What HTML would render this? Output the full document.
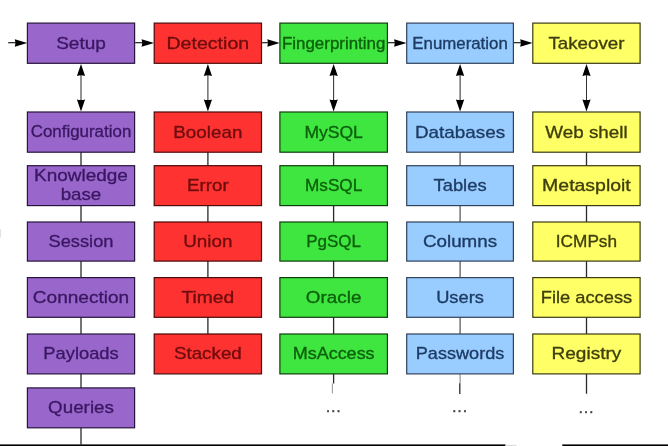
<!DOCTYPE html>
<html><head><meta charset="utf-8"><title>sqlmap architecture</title>
<style>
html,body{margin:0;padding:0;background:#fff;}
body{width:668px;height:446px;overflow:hidden;}
svg{display:block;}
svg text{font-family:"Liberation Sans",sans-serif;font-size:16.4px;stroke-width:0.32px;}
</style></head><body>
<svg width="668" height="446" viewBox="0 0 668 446">
<defs><filter id="soft" x="-6" y="-6" width="680" height="458" filterUnits="userSpaceOnUse"><feGaussianBlur stdDeviation="0.45"/></filter></defs>
<rect width="668" height="446" fill="#ffffff"/>
<g filter="url(#soft)">
<rect x="-6" y="-6" width="680" height="458" fill="#ffffff"/>
<line x1="81.0" y1="116.4" x2="81.0" y2="444.6" stroke="#2a2a2a" stroke-width="1.3"/>
<line x1="207.9" y1="116.4" x2="207.9" y2="338.4" stroke="#2a2a2a" stroke-width="1.3"/>
<line x1="333.6" y1="116.4" x2="333.6" y2="383.6" stroke="#2a2a2a" stroke-width="1.3"/>
<line x1="332.4" y1="383.6" x2="332.4" y2="393.6" stroke="#a8a8a8" stroke-width="1.2"/>
<line x1="460.1" y1="116.4" x2="460.1" y2="370" stroke="#5c5c5c" stroke-width="1.3"/>
<line x1="460.1" y1="374" x2="460.1" y2="383.2" stroke="#9a9a9a" stroke-width="1.3"/>
<line x1="459.8" y1="383.2" x2="459.8" y2="394" stroke="#2a2a2a" stroke-width="1.3"/>
<line x1="586.5" y1="116.4" x2="586.5" y2="393.7" stroke="#2a2a2a" stroke-width="1.3"/>
<line x1="81.0" y1="71.9" x2="81.0" y2="103.4" stroke="#333" stroke-width="1.05"/>
<path d="M81.0 63.9 L85.1 75.9 Q81.0 74.5 76.9 75.9 Z" fill="#000"/>
<path d="M81.0 111.4 L85.1 99.4 Q81.0 100.80000000000001 76.9 99.4 Z" fill="#000"/>
<line x1="207.9" y1="71.9" x2="207.9" y2="103.4" stroke="#333" stroke-width="1.05"/>
<path d="M207.9 63.9 L212.0 75.9 Q207.9 74.5 203.8 75.9 Z" fill="#000"/>
<path d="M207.9 111.4 L212.0 99.4 Q207.9 100.80000000000001 203.8 99.4 Z" fill="#000"/>
<line x1="333.6" y1="71.9" x2="333.6" y2="103.4" stroke="#333" stroke-width="1.05"/>
<path d="M333.6 63.9 L337.8 75.9 Q333.6 74.5 329.5 75.9 Z" fill="#000"/>
<path d="M333.6 111.4 L337.8 99.4 Q333.6 100.80000000000001 329.5 99.4 Z" fill="#000"/>
<line x1="460.1" y1="71.9" x2="460.1" y2="103.4" stroke="#333" stroke-width="1.05"/>
<path d="M460.1 63.9 L464.2 75.9 Q460.1 74.5 455.9 75.9 Z" fill="#000"/>
<path d="M460.1 111.4 L464.2 99.4 Q460.1 100.80000000000001 455.9 99.4 Z" fill="#000"/>
<line x1="586.5" y1="71.9" x2="586.5" y2="103.4" stroke="#333" stroke-width="1.05"/>
<path d="M586.5 63.9 L590.6 75.9 Q586.5 74.5 582.4 75.9 Z" fill="#000"/>
<path d="M586.5 111.4 L590.6 99.4 Q586.5 100.80000000000001 582.4 99.4 Z" fill="#000"/>
<line x1="8.2" y1="42.7" x2="19.2" y2="42.7" stroke="#151515" stroke-width="1.15"/>
<path d="M27.2 43.0 L14.8 39.25 Q16.2 43.0 14.8 46.75 Z" fill="#000"/>
<line x1="135.2" y1="42.7" x2="146.0" y2="42.7" stroke="#151515" stroke-width="1.15"/>
<path d="M154.0 43.0 L141.6 39.25 Q143.0 43.0 141.6 46.75 Z" fill="#000"/>
<line x1="262.1" y1="42.7" x2="271.7" y2="42.7" stroke="#151515" stroke-width="1.15"/>
<path d="M279.7 43.0 L267.3 39.25 Q268.7 43.0 267.3 46.75 Z" fill="#000"/>
<line x1="388.0" y1="42.7" x2="398.5" y2="42.7" stroke="#151515" stroke-width="1.15"/>
<path d="M406.5 43.0 L394.1 39.25 Q395.5 43.0 394.1 46.75 Z" fill="#000"/>
<line x1="514.0" y1="42.7" x2="524.6" y2="42.7" stroke="#151515" stroke-width="1.15"/>
<path d="M532.6 43.0 L520.2 39.25 Q521.6 43.0 520.2 46.75 Z" fill="#000"/>
<rect x="27.40" y="23.10" width="107.20" height="40.20" fill="#9966cc" stroke="#26143c" stroke-width="1.2"/>
<text x="56.17" y="48.7" textLength="49.67" lengthAdjust="spacingAndGlyphs" fill="#3a1862" stroke="#3a1862">Setup</text>
<rect x="27.40" y="112.00" width="107.20" height="40.20" fill="#9966cc" stroke="#26143c" stroke-width="1.2"/>
<text x="30.71" y="137.4" textLength="100.59" lengthAdjust="spacingAndGlyphs" fill="#3a1862" stroke="#3a1862" style="font-size:15.58px">Configuration</text>
<rect x="27.40" y="165.70" width="107.20" height="39.90" fill="#9966cc" stroke="#26143c" stroke-width="1.2"/>
<text x="34.11" y="181.3" textLength="93.78" lengthAdjust="spacingAndGlyphs" fill="#3a1862" stroke="#3a1862">Knowledge</text>
<text x="60.70" y="200.2" textLength="40.60" lengthAdjust="spacingAndGlyphs" fill="#3a1862" stroke="#3a1862">base</text>
<rect x="27.40" y="222.00" width="107.20" height="39.10" fill="#9966cc" stroke="#26143c" stroke-width="1.2"/>
<text x="48.50" y="247.1" textLength="64.99" lengthAdjust="spacingAndGlyphs" fill="#3a1862" stroke="#3a1862">Session</text>
<rect x="27.40" y="277.60" width="107.20" height="39.70" fill="#9966cc" stroke="#26143c" stroke-width="1.2"/>
<text x="32.78" y="302.9" textLength="96.44" lengthAdjust="spacingAndGlyphs" fill="#3a1862" stroke="#3a1862">Connection</text>
<rect x="27.40" y="334.00" width="107.20" height="39.90" fill="#9966cc" stroke="#26143c" stroke-width="1.2"/>
<text x="43.33" y="359.4" textLength="75.34" lengthAdjust="spacingAndGlyphs" fill="#3a1862" stroke="#3a1862">Payloads</text>
<rect x="27.40" y="387.90" width="107.20" height="39.90" fill="#9966cc" stroke="#26143c" stroke-width="1.2"/>
<text x="48.08" y="413.4" textLength="65.86" lengthAdjust="spacingAndGlyphs" fill="#3a1862" stroke="#3a1862">Queries</text>
<rect x="154.20" y="23.10" width="107.30" height="40.20" fill="#ff3333" stroke="#4a0808" stroke-width="1.2"/>
<text x="166.45" y="48.7" textLength="82.79" lengthAdjust="spacingAndGlyphs" fill="#6e0c0c" stroke="#6e0c0c">Detection</text>
<rect x="154.20" y="112.00" width="107.30" height="40.20" fill="#ff3333" stroke="#4a0808" stroke-width="1.2"/>
<text x="173.32" y="137.6" textLength="69.05" lengthAdjust="spacingAndGlyphs" fill="#6e0c0c" stroke="#6e0c0c">Boolean</text>
<rect x="154.20" y="165.70" width="107.30" height="39.90" fill="#ff3333" stroke="#4a0808" stroke-width="1.2"/>
<text x="187.07" y="191.1" textLength="41.57" lengthAdjust="spacingAndGlyphs" fill="#6e0c0c" stroke="#6e0c0c">Error</text>
<rect x="154.20" y="222.00" width="107.30" height="39.10" fill="#ff3333" stroke="#4a0808" stroke-width="1.2"/>
<text x="183.23" y="247.1" textLength="49.24" lengthAdjust="spacingAndGlyphs" fill="#6e0c0c" stroke="#6e0c0c">Union</text>
<rect x="154.20" y="277.60" width="107.30" height="39.70" fill="#ff3333" stroke="#4a0808" stroke-width="1.2"/>
<text x="181.53" y="302.9" textLength="52.64" lengthAdjust="spacingAndGlyphs" fill="#6e0c0c" stroke="#6e0c0c">Timed</text>
<rect x="154.20" y="334.00" width="107.30" height="39.90" fill="#ff3333" stroke="#4a0808" stroke-width="1.2"/>
<text x="173.91" y="359.4" textLength="67.88" lengthAdjust="spacingAndGlyphs" fill="#6e0c0c" stroke="#6e0c0c">Stacked</text>
<rect x="279.90" y="23.10" width="107.50" height="40.20" fill="#40e640" stroke="#0e3e0e" stroke-width="1.2"/>
<text x="281.96" y="48.5" textLength="103.38" lengthAdjust="spacingAndGlyphs" fill="#0c600c" stroke="#0c600c" style="font-size:15.58px">Fingerprinting</text>
<rect x="279.90" y="112.00" width="107.50" height="40.20" fill="#40e640" stroke="#0e3e0e" stroke-width="1.2"/>
<text x="304.40" y="137.6" textLength="58.50" lengthAdjust="spacingAndGlyphs" fill="#0c600c" stroke="#0c600c">MySQL</text>
<rect x="279.90" y="165.70" width="107.50" height="39.90" fill="#40e640" stroke="#0e3e0e" stroke-width="1.2"/>
<text x="304.99" y="191.1" textLength="57.32" lengthAdjust="spacingAndGlyphs" fill="#0c600c" stroke="#0c600c">MsSQL</text>
<rect x="279.90" y="222.00" width="107.50" height="39.10" fill="#40e640" stroke="#0e3e0e" stroke-width="1.2"/>
<text x="306.21" y="247.1" textLength="54.89" lengthAdjust="spacingAndGlyphs" fill="#0c600c" stroke="#0c600c">PgSQL</text>
<rect x="279.90" y="277.60" width="107.50" height="39.70" fill="#40e640" stroke="#0e3e0e" stroke-width="1.2"/>
<text x="305.89" y="302.9" textLength="55.52" lengthAdjust="spacingAndGlyphs" fill="#0c600c" stroke="#0c600c">Oracle</text>
<rect x="279.90" y="334.00" width="107.50" height="39.90" fill="#40e640" stroke="#0e3e0e" stroke-width="1.2"/>
<text x="292.68" y="359.4" textLength="81.95" lengthAdjust="spacingAndGlyphs" fill="#0c600c" stroke="#0c600c">MsAccess</text>
<rect x="406.70" y="23.10" width="106.70" height="40.20" fill="#99ccff" stroke="#30425a" stroke-width="1.2"/>
<text x="412.35" y="48.5" textLength="95.39" lengthAdjust="spacingAndGlyphs" fill="#1e3c64" stroke="#1e3c64" style="font-size:15.58px">Enumeration</text>
<rect x="406.70" y="112.00" width="106.70" height="40.20" fill="#99ccff" stroke="#30425a" stroke-width="1.2"/>
<text x="414.92" y="137.6" textLength="90.26" lengthAdjust="spacingAndGlyphs" fill="#1e3c64" stroke="#1e3c64">Databases</text>
<rect x="406.70" y="165.70" width="106.70" height="39.90" fill="#99ccff" stroke="#30425a" stroke-width="1.2"/>
<text x="433.52" y="191.1" textLength="53.05" lengthAdjust="spacingAndGlyphs" fill="#1e3c64" stroke="#1e3c64">Tables</text>
<rect x="406.70" y="222.00" width="106.70" height="39.10" fill="#99ccff" stroke="#30425a" stroke-width="1.2"/>
<text x="422.97" y="247.1" textLength="74.16" lengthAdjust="spacingAndGlyphs" fill="#1e3c64" stroke="#1e3c64">Columns</text>
<rect x="406.70" y="277.60" width="106.70" height="39.70" fill="#99ccff" stroke="#30425a" stroke-width="1.2"/>
<text x="436.18" y="302.9" textLength="47.75" lengthAdjust="spacingAndGlyphs" fill="#1e3c64" stroke="#1e3c64">Users</text>
<rect x="406.70" y="334.00" width="106.70" height="39.90" fill="#99ccff" stroke="#30425a" stroke-width="1.2"/>
<text x="415.77" y="359.4" textLength="88.55" lengthAdjust="spacingAndGlyphs" fill="#1e3c64" stroke="#1e3c64">Passwords</text>
<rect x="532.80" y="23.10" width="107.30" height="40.20" fill="#ffff66" stroke="#3a3a14" stroke-width="1.2"/>
<text x="548.46" y="48.7" textLength="75.97" lengthAdjust="spacingAndGlyphs" fill="#3e3e0c" stroke="#3e3e0c">Takeover</text>
<rect x="532.80" y="112.00" width="107.30" height="40.20" fill="#ffff66" stroke="#3a3a14" stroke-width="1.2"/>
<text x="545.32" y="137.6" textLength="82.26" lengthAdjust="spacingAndGlyphs" fill="#3e3e0c" stroke="#3e3e0c">Web shell</text>
<rect x="532.80" y="165.70" width="107.30" height="39.90" fill="#ffff66" stroke="#3a3a14" stroke-width="1.2"/>
<text x="542.12" y="191.1" textLength="88.65" lengthAdjust="spacingAndGlyphs" fill="#3e3e0c" stroke="#3e3e0c">Metasploit</text>
<rect x="532.80" y="222.00" width="107.30" height="39.10" fill="#ffff66" stroke="#3a3a14" stroke-width="1.2"/>
<text x="555.81" y="247.1" textLength="61.28" lengthAdjust="spacingAndGlyphs" fill="#3e3e0c" stroke="#3e3e0c">ICMPsh</text>
<rect x="532.80" y="277.60" width="107.30" height="39.70" fill="#ffff66" stroke="#3a3a14" stroke-width="1.2"/>
<text x="540.74" y="302.9" textLength="91.43" lengthAdjust="spacingAndGlyphs" fill="#3e3e0c" stroke="#3e3e0c">File access</text>
<rect x="532.80" y="334.00" width="107.30" height="39.90" fill="#ffff66" stroke="#3a3a14" stroke-width="1.2"/>
<text x="551.55" y="359.4" textLength="69.79" lengthAdjust="spacingAndGlyphs" fill="#3e3e0c" stroke="#3e3e0c">Registry</text>
<text x="325.67 330.97 336.27" y="411.9" fill="#444" stroke="#444" stroke-width="0.3">...</text>
<text x="452.07 457.37 462.67" y="411.9" fill="#444" stroke="#444" stroke-width="0.3">...</text>
<text x="578.47 583.77 589.07" y="412.9" fill="#444" stroke="#444" stroke-width="0.3">...</text>
<rect x="-5" y="444.4" width="510.5" height="8" fill="#000"/>
<rect x="505.5" y="444.9" width="11" height="8" fill="#dcdcdc"/>
<rect x="-2" y="229" width="3" height="8.5" fill="#e2e2e2"/>
<rect x="562.3" y="444.4" width="112" height="8" fill="#000"/>
</g>
</svg>
</body></html>
